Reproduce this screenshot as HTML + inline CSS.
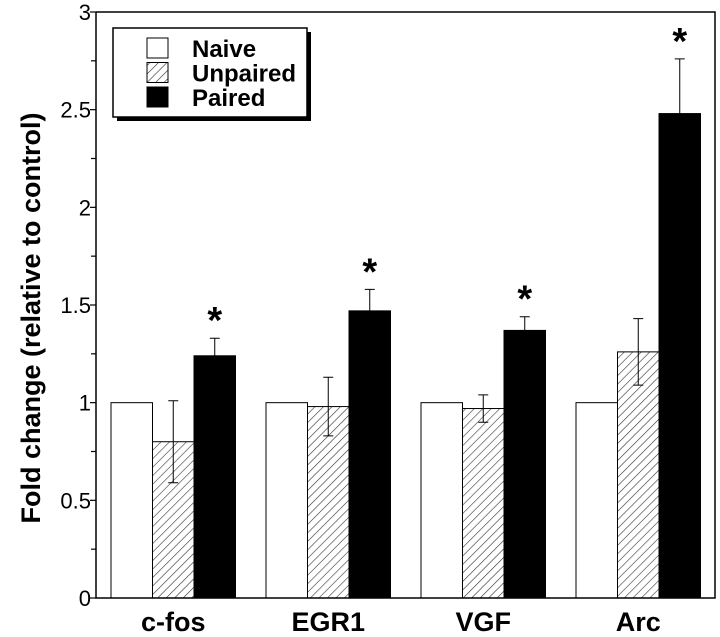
<!DOCTYPE html>
<html><head><meta charset="utf-8"><style>body{margin:0;background:#fff}svg{display:block;font-family:"Liberation Sans",Arial,sans-serif}</style></head>
<body>
<svg id="chart" width="720" height="637">
<defs><pattern id="hatch" patternUnits="userSpaceOnUse" width="6" height="6" patternTransform="rotate(45)"><rect width="6" height="6" fill="#fff"/><line x1="0" y1="0" x2="0" y2="6" stroke="#333" stroke-width="1.2"/></pattern></defs>
<g id="bars"></g>
</svg>
<script>
const categories=["c-fos","EGR1","VGF","Arc"];
const naive=[1,1,1,1];
const unpaired=[0.8,0.98,0.97,1.26];
const unpairedErr=[0.21,0.15,0.07,0.17];
const paired=[1.24,1.47,1.37,2.48];
const pairedErr=[0.09,0.11,0.07,0.28];
const yTicks=["0","0.5","1","1.5","2","2.5","3"];
const NS="http://www.w3.org/2000/svg";
const svg=document.getElementById('chart');
const X0=96,X1=715,Y0=598,Y1=12;
const y=v=>Y0-(v/3)*(Y0-Y1);
const groupX=i=>111+i*155;
const bw=41.5;
function el(t,a,p){const e=document.createElementNS(NS,t);for(const k in a)e.setAttribute(k,a[k]);(p||svg).appendChild(e);return e;}
const g=document.getElementById('bars');
const series=[[naive,null,'#fff'],[unpaired,unpairedErr,'url(#hatch)'],[paired,pairedErr,'#000']];
categories.forEach((c,i)=>{
 series.forEach((s,j)=>{
  const v=s[0][i],x=groupX(i)+j*bw;
  const r=el('rect',{x:x,y:y(v),width:bw,height:Y0-y(v),fill:s[2],stroke:'#000','stroke-width':1},g);
  
  
  if(s[1]){const e=s[1][i],cx=x+bw/2;
   const lo=j===1?v-e:v;
   const l=el('path',{d:`M${cx},${y(lo)}V${y(v+e)}M${cx-5},${y(v+e)}H${cx+5}`+(j===1?`M${cx-5},${y(v-e)}H${cx+5}`:''),stroke:'#000','stroke-width':1,fill:'none'},g);
   
   
   if(j===2){const st=el('text',{x:cx,y:y(v+e)-5,'text-anchor':'middle','font-size':38,'font-weight':'bold'});st.textContent='*';
    
    }
  }
 });
 const t=el('text',{x:groupX(i)+bw*1.5,y:631,'text-anchor':'middle','font-size':27,'font-weight':'bold'});t.textContent=c;
 
 
});
const ax=el('path',{d:`M${X0},${Y1}V${Y0}H${X1}V${Y1}H${X0}`,stroke:'#000','stroke-width':1.5,fill:'none'});


for(let k=0;k<=12;k++){const v=k*0.25;const len=k%2===0?6:5;
 el('line',{x1:X0-len,x2:X0,y1:y(v),y2:y(v),stroke:'#000','stroke-width':1.2});}
yTicks.forEach(s=>{const t=el('text',{x:X0-5,y:y(parseFloat(s))+8,'text-anchor':'end','font-size':22});t.textContent=s;
 
 });
const yl=el('text',{transform:'translate(40,318) rotate(-90)','text-anchor':'middle','font-size':27,'font-weight':'bold'});yl.textContent='Fold change (relative to control)';


const lg=el('g',{});


el('rect',{x:117,y:32,width:194,height:89,fill:'#000'},lg);
el('rect',{x:113,y:28,width:194,height:89,fill:'#fff',stroke:'#000','stroke-width':1.5},lg);
[['Naive','#fff'],['Unpaired','url(#hatch)'],['Paired','#000']].forEach((d,k)=>{
 el('rect',{x:147,y:38+k*24.5,width:21,height:20,fill:d[1],stroke:'#000','stroke-width':1},lg);
 const t=el('text',{x:192,y:57+k*24.5,'font-size':24,'font-weight':'bold'},lg);t.textContent=d[0];
 
 
});
</script>
</body></html>
